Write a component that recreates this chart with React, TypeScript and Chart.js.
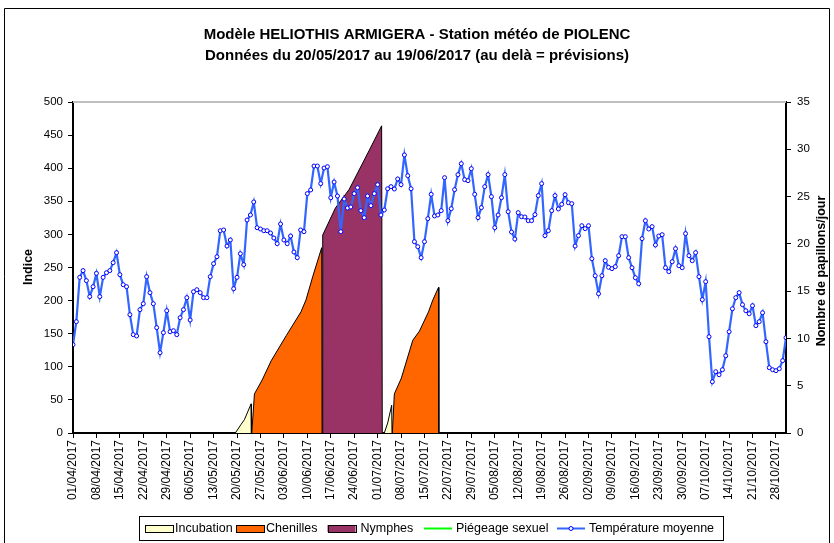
import React, { useEffect, useRef } from 'react';
import { Chart, registerables } from 'chart.js';

Chart.register(...registerables);

const FONT = 'Arial, "Liberation Sans", Helvetica, sans-serif';

const titleLines = [
  'Modèle HELIOTHIS ARMIGERA - Station météo de PIOLENC',
  'Données du 20/05/2017 au 19/06/2017 (au delà = prévisions)',
];
const leftAxisTitle = 'Indice';
const rightAxisTitle = 'Nombre de papillons/jour';

// one tick every 7 days, day 0 = 01/04/2017, last day = 31/10/2017 (day 213)
const lastDay = 213;
const xTickLabels = [
  '01/04/2017', '08/04/2017', '15/04/2017', '22/04/2017', '29/04/2017', '06/05/2017',
  '13/05/2017', '20/05/2017', '27/05/2017', '03/06/2017', '10/06/2017', '17/06/2017',
  '24/06/2017', '01/07/2017', '08/07/2017', '15/07/2017', '22/07/2017', '29/07/2017',
  '05/08/2017', '12/08/2017', '19/08/2017', '26/08/2017', '02/09/2017', '09/09/2017',
  '16/09/2017', '23/09/2017', '30/09/2017', '07/10/2017', '14/10/2017', '21/10/2017',
  '28/10/2017',
];

// Température moyenne (°C), one value per day from 01/04/2017
const temperature = [
  9.34, 11.77, 16.46, 17.17, 16.11, 14.42, 15.47, 16.88, 14.42, 16.46,
  16.95, 17.17, 18.01, 19.07, 16.74, 15.68, 15.47, 12.51, 10.40, 10.26,
  13.04, 13.67, 16.53, 14.84, 13.67, 11.14, 8.49, 10.61, 12.93, 10.71,
  10.82, 10.40, 12.19, 13.04, 14.31, 11.95, 14.94, 15.15, 14.84, 14.31,
  14.31, 16.53, 17.90, 18.64, 21.39, 21.47, 19.77, 20.41, 15.26, 16.46,
  18.96, 17.80, 22.52, 23.05, 24.43, 21.71, 21.57, 21.39, 21.39, 21.15,
  20.62, 20.02, 22.10, 20.41, 20.02, 20.83, 19.14, 18.54, 21.47, 21.29,
  25.31, 25.70, 28.23, 28.23, 26.37, 28.02, 28.16, 24.88, 26.54, 25.06,
  21.29, 24.74, 23.79, 23.90, 25.31, 25.94, 23.51, 22.77, 25.06, 24.04,
  25.31, 26.26, 23.05, 23.58, 25.83, 26.05, 25.80, 26.86, 26.26, 29.40,
  27.21, 25.83, 20.23, 19.70, 18.54, 20.23, 22.66, 25.24, 22.95, 23.05,
  23.51, 27.00, 22.45, 23.72, 25.73, 27.32, 28.48, 26.79, 26.68, 27.95,
  25.24, 22.77, 23.83, 26.05, 27.32, 24.99, 21.71, 23.05, 24.88, 27.32,
  23.40, 21.25, 20.51, 23.30, 22.87, 22.84, 22.45, 22.45, 23.09, 25.10,
  26.37, 20.87, 21.39, 23.51, 25.10, 23.69, 24.18, 25.20, 24.35, 24.25,
  19.77, 20.87, 21.92, 21.61, 21.92, 18.43, 16.63, 14.73, 16.63, 18.22,
  17.52, 17.38, 17.59, 18.75, 20.76, 20.76, 18.54, 17.48, 16.42, 15.79,
  20.55, 22.45, 21.57, 21.82, 19.88, 20.83, 20.97, 17.48, 17.06, 18.11,
  19.49, 17.69, 17.48, 21.08, 18.75, 18.22, 19.07, 16.53, 14.10, 16.00,
  10.18, 5.42, 6.48, 6.16, 6.69, 8.17, 10.71, 13.14, 14.31, 14.84,
  13.57, 12.93, 12.61, 13.46, 11.35, 11.77, 12.72, 9.65, 6.91, 6.69,
  6.59, 6.80, 7.65, 10.08,
];

// Indice values (left axis), day positions from 01/04/2017; null = gap between generations
const incubationDays = [48.5, 50.2, 51.2, 53.2, 53.3, 70, 93.0, 94.0, 95.2, 95.3];
const incubationValues = [0, 13, 20, 44, 0, null, 0, 15, 42, 0];

const chenillesDays = [53.4, 54.2, 56.5, 59.2, 63.7, 68.1, 69.6, 71.6, 74.3, 74.4, 85, 95.4, 96.0, 98.1, 101.5, 103.5, 106.2, 107.5, 109.2, 109.3];
const chenillesValues = [0, 59, 80, 109, 147, 183, 201, 236, 280, 0, null, 0, 59, 83, 140, 154, 183, 201, 220, 0];

const nymphesDays = [74.5, 74.6, 78.4, 82.5, 88.5, 92.2, 92.4];
const nymphesValues = [0, 299, 340, 368, 427, 464, 0];

const piegeageDays: number[] = [];
const piegeageValues: number[] = [];

const seriesNames = ['Incubation', 'Chenilles', 'Nymphes', 'Piégeage sexuel', 'Température moyenne'];

const toPoints = (xs: number[], ys: (number | null)[]) => xs.map((x, i) => ({ x, y: ys[i] }));

const decorPlugin = {
  id: 'decor',
  beforeDraw(chart: any) {
    const { ctx, width, height } = chart;
    ctx.save();
    ctx.fillStyle = '#ffffff';
    ctx.fillRect(0, 0, width, height);
    ctx.strokeStyle = '#000000';
    ctx.lineWidth = 1;
    ctx.beginPath();
    ctx.moveTo(4.5, height + 2);
    ctx.lineTo(4.5, 8.5);
    ctx.lineTo(829.5, 8.5);
    ctx.lineTo(829.5, height + 2);
    ctx.stroke();
    ctx.restore();
  },
  beforeDatasetsDraw(chart: any) {
    const { ctx, chartArea } = chart;
    ctx.save();
    ctx.strokeStyle = '#c0c0c0';
    ctx.lineWidth = 2;
    ctx.beginPath();
    ctx.moveTo(chartArea.left, chartArea.top);
    ctx.lineTo(chartArea.right, chartArea.top);
    ctx.stroke();
    ctx.restore();
  },
  afterDraw(chart: any) {
    const { ctx } = chart;
    ctx.save();
    ctx.fillStyle = '#000';
    ctx.font = `bold 12.5px ${FONT}`;
    ctx.textAlign = 'center';
    ctx.textBaseline = 'middle';
    ctx.translate(29, 267);
    ctx.rotate(-Math.PI / 2);
    ctx.fillText(leftAxisTitle, 0, 0);
    ctx.restore();

    ctx.save();
    ctx.fillStyle = '#000';
    ctx.font = `bold 12.5px ${FONT}`;
    ctx.textAlign = 'center';
    ctx.textBaseline = 'middle';
    ctx.translate(822, 271);
    ctx.rotate(-Math.PI / 2);
    ctx.fillText(rightAxisTitle, 0, 0);
    ctx.restore();

    // legend
    const yc = 528.5;
    const swatchX = [144.5, 236, 327.5, 424, 557];
    const textX = [175, 266, 360.5, 456, 589];
    const fills = ['#FFFFCC', '#FF6600', '#993366'];
    ctx.save();
    ctx.font = `12.5px ${FONT}`;
    ctx.textBaseline = 'middle';
    ctx.textAlign = 'left';
    seriesNames.forEach((name, i) => {
      const sx = swatchX[i];
      if (i < 3) {
        ctx.fillStyle = fills[i];
        ctx.fillRect(sx, yc - 3.5, 28, 7);
        ctx.strokeStyle = '#000';
        ctx.lineWidth = 1;
        ctx.strokeRect(Math.round(sx) + 0.5, Math.round(yc - 3.5) + 0.5, 28, 7);
      } else {
        ctx.strokeStyle = i === 3 ? '#00FF00' : '#3366FF';
        ctx.lineWidth = 2;
        ctx.beginPath();
        ctx.moveTo(sx, yc);
        ctx.lineTo(sx + 28, yc);
        ctx.stroke();
        if (i === 4) {
          ctx.beginPath();
          ctx.arc(sx + 14, yc, 2, 0, Math.PI * 2);
          ctx.fillStyle = '#fff';
          ctx.fill();
          ctx.strokeStyle = '#0000FF';
          ctx.lineWidth = 1;
          ctx.stroke();
        }
      }
      ctx.fillStyle = '#000';
      ctx.fillText(name, textX[i], yc);
    });
    ctx.strokeStyle = '#000';
    ctx.lineWidth = 1;
    ctx.strokeRect(139.5, 516.5, 584, 24);
    ctx.restore();
  },
};

export default function App() {
  const canvasRef = useRef<HTMLCanvasElement | null>(null);

  useEffect(() => {
    document.body.style.margin = '0';
    const canvas = canvasRef.current;
    if (!canvas) return;
    Chart.defaults.font.family = FONT;
    Chart.defaults.color = '#000';

    const areaStyle = (color: string) => ({
      backgroundColor: color,
      borderColor: '#000000',
      borderWidth: 1,
      pointRadius: 0,
      pointHoverRadius: 0,
      tension: 0,
      fill: 'origin' as const,
      spanGaps: false,
      yAxisID: 'y',
      order: 1,
    });

    const chart = new Chart(canvas, {
      type: 'line',
      data: {
        datasets: [
          {
            label: seriesNames[4],
            data: temperature.map((t, i) => ({ x: i, y: t })),
            yAxisID: 'y2',
            borderColor: '#3366FF',
            borderWidth: 2.2,
            pointRadius: 2,
            pointBorderWidth: 1,
            pointBackgroundColor: '#FFFFFF',
            pointBorderColor: '#0000FF',
            tension: 0,
            fill: false,
            order: 0,
          },
          { label: seriesNames[0], data: toPoints(incubationDays, incubationValues), ...areaStyle('#FFFFCC') },
          { label: seriesNames[1], data: toPoints(chenillesDays, chenillesValues), ...areaStyle('#FF6600') },
          { label: seriesNames[2], data: toPoints(nymphesDays, nymphesValues), ...areaStyle('#993366') },
          {
            label: seriesNames[3],
            data: toPoints(piegeageDays, piegeageValues),
            yAxisID: 'y2',
            borderColor: '#00FF00',
            borderWidth: 2,
            pointRadius: 0,
            fill: false,
            order: 0,
          },
        ],
      },
      options: {
        animation: false,
        responsive: false,
        devicePixelRatio: 1,
        layout: { padding: { top: 0, bottom: 35, left: 0, right: 0 } },
        plugins: {
          legend: { display: false },
          tooltip: { enabled: false },
          title: {
            display: true,
            text: titleLines,
            color: '#000',
            font: { size: 15, weight: 'bold', lineHeight: 1.4, family: FONT },
            padding: { top: 24, bottom: 36 },
          },
        },
        scales: {
          x: {
            type: 'linear',
            min: 0,
            max: lastDay,
            border: { color: '#000', width: 2 },
            grid: { drawOnChartArea: false, drawTicks: true, tickLength: 5, color: '#000', lineWidth: 1 },
            ticks: {
              stepSize: 7,
              includeBounds: false,
              autoSkip: false,
              maxTicksLimit: 40,
              maxRotation: 90,
              minRotation: 90,
              padding: 2,
              color: '#000',
              font: { size: 12, family: FONT },
              callback: (v: any) => xTickLabels[Math.round(Number(v) / 7)] ?? '',
            },
            afterFit: (s: any) => { s.height = 75; },
          },
          y: {
            position: 'left',
            min: 0,
            max: 500,
            border: { color: '#000', width: 2 },
            grid: { drawOnChartArea: false, tickLength: 5, color: '#000', lineWidth: 1 },
            ticks: { stepSize: 50, padding: 5, color: '#000', font: { size: 11.5, family: FONT } },
            afterFit: (s: any) => { s.width = 73; },
          },
          y2: {
            position: 'right',
            min: 0,
            max: 35,
            border: { color: '#000', width: 2 },
            grid: { drawOnChartArea: false, tickLength: 5, color: '#000', lineWidth: 1 },
            ticks: { stepSize: 5, padding: 6, color: '#000', font: { size: 11.5, family: FONT } },
            afterFit: (s: any) => { s.width = 48; },
          },
        },
      },
      plugins: [decorPlugin],
    });

    return () => chart.destroy();
  }, []);

  return (
    <div style={{ width: 834, height: 543, position: 'relative' }}>
      <canvas ref={canvasRef} width={834} height={543} style={{ display: 'block' }} />
    </div>
  );
}
